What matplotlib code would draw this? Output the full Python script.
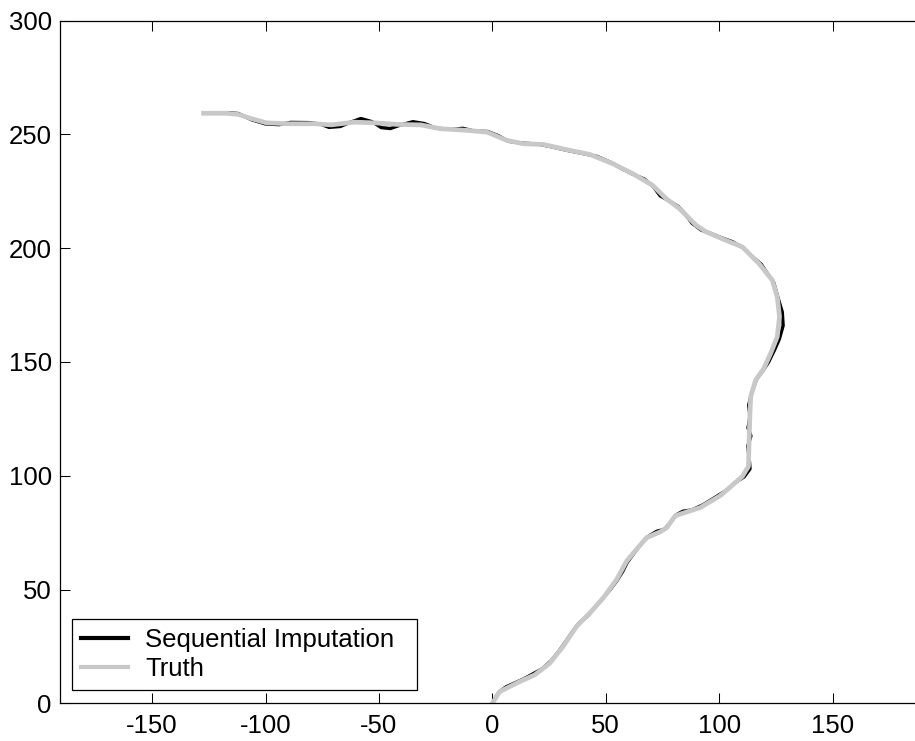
import numpy as np
import matplotlib
matplotlib.use('Agg')
import matplotlib.pyplot as plt

# Truth trajectory
truth_x = [-127.3, -117.1, -112.0, -106.1, -99.6, -90.0, -78.4, -71.0, -60.8, -52.1,
           -41.8, -31.6, -22.8, -11.1, -2.3, 6.4, 13.7, 22.5, 32.8, 43.0,
           53.2, 62.0, 70.7, 76.6, 82.5, 89.8, 94.2, 102.9, 110.2, 117.5,
           123.4, 125.6, 126.6, 125.6, 122.7, 119.7, 116.1, 113.9, 113.5, 113.2,
           112.9, 110.2, 104.4, 100.4, 91.6, 85.7, 80.6, 76.9, 73.9, 68.0,
           62.9, 59.2, 54.8, 48.9, 43.0, 37.1, 31.2, 25.3, 18.7, 12.0,
           3.2, 0.0]
truth_y = [259.3, 259.3, 258.8, 256.9, 255.1, 254.7, 254.7, 254.2, 255.4, 255.1,
           254.4, 254.2, 252.5, 251.8, 251.0, 247.4, 245.9, 245.6, 243.3, 241.2,
           237.1, 232.7, 227.6, 221.8, 217.4, 210.1, 207.2, 203.5, 200.6, 193.3,
           186.0, 178.6, 169.9, 161.1, 153.8, 147.2, 142.1, 134.8, 126.0, 115.8,
           104.1, 99.7, 94.6, 91.2, 86.0, 84.1, 82.4, 77.2, 75.3, 72.8,
           66.9, 62.5, 54.4, 46.3, 39.7, 33.8, 25.0, 17.6, 12.5, 9.5,
           5.1, 0.0]

# Sequential imputation estimate
seq_x = [-127.3, -117.0, -112.0, -106.0, -100.0, -94.0, -89.0, -81.0, -76.0, -72.0,
         -67.0, -63.0, -58.0, -53.0, -49.0, -45.0, -40.0, -35.0, -30.0, -25.0,
         -18.0, -13.0, -8.0, -2.0, 3.0, 7.0, 13.0, 20.0, 26.0, 33.0,
         40.0, 46.0, 52.0, 57.0, 62.0, 67.0, 71.0, 74.0, 78.0, 82.0,
         85.0, 88.0, 92.0, 96.0, 101.0, 106.0, 110.5, 114.0, 118.5, 121.0,
         124.0, 126.0, 127.8, 128.2, 126.5, 124.5, 121.8, 119.5, 116.5, 114.5,
         113.0, 113.6, 112.7, 114.0, 112.6, 113.2, 113.6, 111.0, 107.0, 103.5,
         99.0, 93.0, 88.0, 84.0, 81.0, 78.5, 76.0, 72.5, 69.0, 66.0,
         62.5, 59.5, 57.5, 55.0, 52.0, 49.0, 45.5, 42.0, 38.0, 35.0,
         32.0, 29.0, 26.0, 22.0, 18.0, 14.0, 10.0, 6.0, 3.0, 1.0, 0.0]
seq_y = [259.3, 259.6, 259.2, 256.4, 254.6, 254.3, 255.3, 255.2, 254.6, 253.1,
         253.5, 255.2, 257.0, 255.6, 253.0, 252.6, 254.3, 255.6, 254.8, 252.8,
         252.2, 252.7, 251.5, 251.3, 249.3, 247.0, 246.2, 245.8, 244.6, 243.0,
         241.6, 240.4, 237.8, 235.0, 232.5, 230.4, 227.0, 223.0, 220.8, 218.3,
         215.0, 211.0, 208.0, 206.6, 204.6, 202.8, 200.2, 196.8, 193.0, 189.3,
         185.0, 178.0, 172.0, 166.0, 160.0, 155.5, 150.0, 146.5, 142.5, 137.0,
         131.0, 126.0, 121.0, 117.5, 113.0, 108.0, 103.0, 99.5, 97.0, 93.8,
         91.0, 87.3, 85.0, 84.4, 82.8, 79.5, 76.5, 75.6, 73.5, 70.5,
         66.0, 62.0, 58.0, 54.0, 50.0, 46.6, 42.5, 38.4, 35.0, 31.0,
         26.6, 22.5, 18.8, 15.2, 13.0, 10.8, 9.0, 7.2, 5.0, 2.0, 0.0]

xticks = [-150, -100, -50, 0, 50, 100, 150]
yticks = [0, 50, 100, 150, 200, 250, 300]

plt.rcParams['font.family'] = ['Liberation Sans', 'DejaVu Sans']
plt.rcParams['font.size'] = 18.5
plt.rcParams['axes.unicode_minus'] = False

fig = plt.figure(figsize=(9.15, 7.41), dpi=100)
ax = fig.add_axes([0.0656, 0.0509, 0.945, 0.9212])

ax.plot(seq_x, seq_y, color='black', lw=2.4, label='Sequential Imputation  ')
ax.plot(truth_x, truth_y, color='#c8c8c8', lw=3.4, label='Truth')

ax.set_xlim(-190.6, 190.6)
ax.set_ylim(0, 300)
ax.set_xticks(xticks)
ax.set_yticks(yticks)
ax.tick_params(direction='in', length=7, width=0.75, top=True, right=True)
ax.tick_params(axis='x', pad=8)
ax.tick_params(axis='y', pad=6)
for s in ax.spines.values():
    s.set_linewidth(0.9)

leg = ax.legend(loc='lower left', bbox_to_anchor=(71.7 / 915, (741 - 690) / 741),
                bbox_transform=fig.transFigure, fancybox=False, framealpha=1,
                edgecolor='black', handlelength=1.85, handletextpad=0.65,
                borderpad=0.35, labelspacing=0.2, borderaxespad=0)
leg.get_frame().set_linewidth(0.9)
leg.get_lines()[0].set_linewidth(3)
leg.get_lines()[1].set_linewidth(3)

fig.savefig('out.png', dpi=100)
